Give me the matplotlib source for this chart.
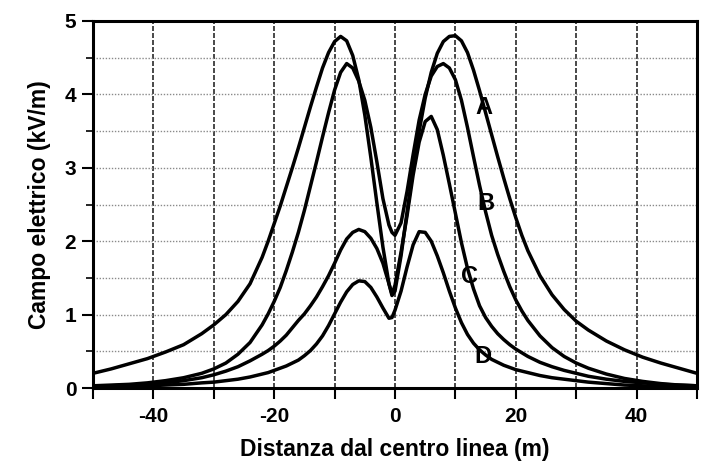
import numpy as np
import matplotlib
matplotlib.use("Agg")
import matplotlib.pyplot as plt
from matplotlib.ticker import MultipleLocator

plt.rcParams["font.family"] = ["Liberation Sans", "DejaVu Sans"]
plt.rcParams["axes.unicode_minus"] = False

# distance from line centre (m)
dist = [-50, -47, -44, -41, -38, -35, -32, -30, -28, -26, -24, -22,
        -21, -20, -19, -18, -17, -16, -15, -14, -13, -12, -11, -10,
        -9, -8, -7, -6, -5, -4, -3, -2, -1, -0.5, 0,
        1, 2, 3, 4, 5, 6, 7, 8, 9, 10, 11, 12,
        13, 14, 15, 16, 17, 18, 19, 20, 21, 22,
        24, 26, 28, 30, 32, 35, 38, 41, 44, 47, 50]

# electric field (kV/m)
field_a = [0.20, 0.26, 0.33, 0.40, 0.49, 0.59, 0.74, 0.86, 1.00, 1.18, 1.42, 1.78,
           2.00, 2.24, 2.48, 2.74, 3.00, 3.27, 3.55, 3.83, 4.10, 4.36, 4.57, 4.72,
           4.79, 4.73, 4.53, 4.20, 3.72, 3.14, 2.52, 1.92, 1.42, 1.26, 1.32,
           1.80, 2.40, 2.98, 3.50, 3.95, 4.30, 4.56, 4.72, 4.79, 4.80, 4.73, 4.57,
           4.33, 4.05, 3.75, 3.45, 3.15, 2.86, 2.58, 2.32, 2.08, 1.87,
           1.53, 1.27, 1.07, 0.91, 0.79, 0.64, 0.52, 0.42, 0.34, 0.27, 0.20]
field_b = [0.03, 0.04, 0.05, 0.07, 0.10, 0.14, 0.20, 0.26, 0.34, 0.46, 0.62, 0.86,
           1.01, 1.18, 1.37, 1.60, 1.85, 2.12, 2.42, 2.75, 3.08, 3.42, 3.75, 4.06,
           4.30, 4.42, 4.36, 4.18, 3.92, 3.55, 3.08, 2.58, 2.22, 2.12, 2.08,
           2.25, 2.68, 3.18, 3.65, 4.00, 4.25, 4.38, 4.42, 4.36, 4.20, 3.92, 3.55,
           3.15, 2.76, 2.40, 2.08, 1.82, 1.59, 1.38, 1.20, 1.05, 0.92,
           0.71, 0.55, 0.43, 0.34, 0.27, 0.19, 0.13, 0.09, 0.06, 0.04, 0.03]
field_c = [0.02, 0.03, 0.04, 0.05, 0.07, 0.10, 0.14, 0.18, 0.23, 0.29, 0.37, 0.46,
           0.51, 0.57, 0.64, 0.72, 0.82, 0.92, 1.01, 1.12, 1.24, 1.38, 1.53, 1.70,
           1.88, 2.03, 2.12, 2.16, 2.13, 2.04, 1.90, 1.70, 1.42, 1.28, 1.40,
           1.85, 2.35, 2.90, 3.35, 3.63, 3.70, 3.52, 3.17, 2.78, 2.38, 1.98, 1.63,
           1.35, 1.12, 0.96, 0.84, 0.74, 0.66, 0.59, 0.53, 0.48, 0.43,
           0.35, 0.29, 0.24, 0.20, 0.16, 0.12, 0.09, 0.07, 0.05, 0.04, 0.03]
field_d = [0.01, 0.01, 0.02, 0.03, 0.04, 0.05, 0.07, 0.08, 0.10, 0.12, 0.15, 0.19,
           0.21, 0.24, 0.27, 0.30, 0.34, 0.38, 0.44, 0.51, 0.60, 0.71, 0.85, 1.01,
           1.17, 1.31, 1.41, 1.46, 1.45, 1.37, 1.24, 1.09, 0.95, 0.96, 1.06,
           1.32, 1.65, 1.95, 2.13, 2.12, 2.00, 1.80, 1.57, 1.32, 1.09, 0.89, 0.73,
           0.61, 0.52, 0.45, 0.39, 0.35, 0.31, 0.28, 0.25, 0.23, 0.21,
           0.17, 0.14, 0.12, 0.10, 0.08, 0.06, 0.04, 0.03, 0.02, 0.02, 0.01]

curve_names = ["A", "B", "C", "D"]
label_pos = [(14.8, 3.82), (15.0, 2.52), (12.4, 1.52), (14.6, 0.43)]

fig = plt.figure(figsize=(7.04, 4.66), dpi=100)
ax = fig.add_axes([93 / 704, 1 - 388 / 466, 604 / 704, 367 / 466])

# grid like the printed chart paper
for gx in range(-40, 50, 10):
    ax.axvline(gx, color="#2a2a2a", lw=1.2, ls=(0, (3, 1.2)), zorder=1)
for gy in np.arange(0.5, 5.0, 0.5):
    ax.axhline(gy, color="#8a8a8a", lw=1.0, ls=(0, (1, 1.2)), zorder=1)

for vals in [field_a, field_b, field_c, field_d]:
    ax.plot(dist, vals, color="black", lw=2.5, solid_joinstyle="round",
            solid_capstyle="round", zorder=3)

for name, (lx, ly) in zip(curve_names, label_pos):
    ax.text(lx, ly, name, fontsize=17, fontweight="bold", ha="center",
            va="center", zorder=4)

ax.set_xlim(-50, 50)
ax.set_ylim(0, 5)
ax.xaxis.set_major_locator(MultipleLocator(20))
ax.xaxis.set_minor_locator(MultipleLocator(10))
ax.yaxis.set_major_locator(MultipleLocator(1))
ax.yaxis.set_minor_locator(MultipleLocator(0.5))
ax.tick_params(axis="x", which="both", direction="out", length=8, width=1.5,
               pad=6, labelsize=15)
ax.tick_params(axis="y", which="major", direction="out", length=8, width=1.5,
               pad=4, labelsize=15)
ax.tick_params(axis="y", which="minor", direction="out", length=5, width=1.2)
for lab in ax.get_xticklabels() + ax.get_yticklabels():
    lab.set_fontweight("bold")

for sp in ax.spines.values():
    sp.set_linewidth(2.2)

ax.set_xlabel("Distanza dal centro linea (m)", fontsize=16.5, fontweight="bold",
              labelpad=8)
ax.set_ylabel("Campo elettrico (kV/m)", fontsize=16.5, fontweight="bold",
              labelpad=10)

plt.savefig("out.png", dpi=100)
